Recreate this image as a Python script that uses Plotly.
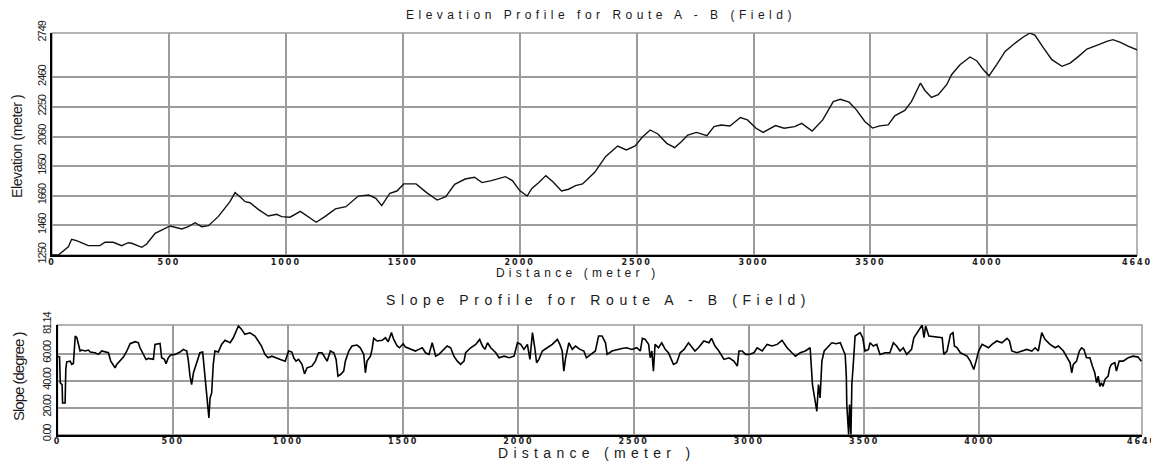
import plotly.graph_objects as go

# ---------------- data ----------------
elev_dist = [0, 27, 70, 84, 105, 155, 205, 227, 262, 298, 326, 341, 384, 405, 441, 462, 505, 555, 583, 612,
             640, 669, 711, 761, 783, 804, 826, 847, 882, 925, 961, 982, 1018, 1062, 1130, 1167, 1212, 1257,
             1310, 1355, 1385, 1410, 1445, 1475, 1504, 1557, 1602, 1647, 1684, 1722, 1767, 1807, 1839, 1879,
             1939, 1969, 2000, 2032, 2052, 2082, 2112, 2142, 2179, 2209, 2239, 2269, 2321, 2367, 2419, 2456,
             2494, 2524, 2558, 2591, 2629, 2663, 2689, 2719, 2756, 2801, 2831, 2861, 2899, 2944, 2974, 3011,
             3041, 3094, 3131, 3176, 3206, 3251, 3296, 3341, 3371, 3409, 3440, 3476, 3509, 3540, 3576, 3604,
             3647, 3676, 3697, 3714, 3733, 3761, 3790, 3826, 3847, 3883, 3926, 3954, 3983, 4007, 4040, 4076,
             4119, 4154, 4183, 4204, 4240, 4276, 4319, 4354, 4390, 4426, 4476, 4511, 4537, 4569, 4604, 4640]
elev_m = [1250, 1250, 1306, 1356, 1347, 1313, 1313, 1336, 1336, 1313, 1333, 1329, 1302, 1324, 1396, 1412, 1446,
          1426, 1441, 1468, 1441, 1448, 1509, 1610, 1671, 1644, 1610, 1603, 1558, 1513, 1525, 1509, 1505, 1545,
          1471, 1509, 1561, 1576, 1648, 1655, 1633, 1583, 1667, 1682, 1730, 1730, 1671, 1621, 1644, 1727, 1763,
          1775, 1739, 1752, 1779, 1752, 1685, 1648, 1700, 1739, 1786, 1745, 1682, 1694, 1718, 1730, 1808, 1914,
          1986, 1959, 1986, 2045, 2094, 2067, 2004, 1975, 2011, 2060, 2078, 2056, 2117, 2128, 2121, 2178, 2162,
          2106, 2078, 2124, 2106, 2117, 2139, 2087, 2162, 2286, 2301, 2282, 2230, 2152, 2107, 2122, 2129, 2190,
          2226, 2287, 2361, 2411, 2361, 2314, 2332, 2400, 2467, 2535, 2587, 2562, 2501, 2460, 2535, 2625, 2681,
          2722, 2749, 2733, 2648, 2569, 2524, 2546, 2591, 2641, 2670, 2693, 2704, 2686, 2659, 2636]

slope_dist = [0, 9, 12, 20, 22, 33, 36, 40, 55, 62, 69, 77, 84, 91, 98, 105, 120, 134, 142, 163, 178, 192, 207,
              221, 231, 243, 250, 257, 272, 286, 301, 315, 337, 351, 358, 373, 384, 394, 409, 416, 423, 445, 452,
              464, 471, 481, 491, 510, 532, 546, 561, 568, 575, 582, 590, 604, 618, 630, 640, 647, 657, 662, 669,
              676, 683, 698, 712, 727, 749, 763, 785, 799, 813, 835, 857, 871, 885, 900, 914,
              930, 945, 967, 988, 1003, 1017, 1025, 1035, 1046, 1061, 1072, 1083, 1104, 1119, 1133, 1148, 1162,
              1170, 1184, 1199, 1209, 1217, 1228, 1242, 1249, 1264, 1278, 1300, 1314, 1322, 1329, 1336, 1343,
              1358, 1365, 1372, 1387, 1409, 1423, 1435, 1449, 1459, 1474, 1484, 1500, 1510, 1532, 1553, 1568,
              1583, 1597, 1612, 1626, 1641, 1655, 1670, 1691, 1706, 1720, 1735, 1749, 1764, 1771, 1793, 1815,
              1832, 1844, 1855, 1866, 1880, 1902, 1916, 1938, 1960, 1981, 1996, 2010, 2024, 2039, 2050, 2061,
              2071, 2079, 2089, 2104, 2125, 2147, 2169, 2180, 2190, 2197, 2205, 2219, 2234, 2248, 2267, 2284,
              2295, 2313, 2334, 2348, 2363, 2378, 2385, 2406, 2428, 2449, 2470, 2492, 2514, 2529, 2538, 2550,
              2565, 2572, 2579, 2586, 2593, 2608, 2622, 2637, 2651, 2673, 2687, 2702, 2719, 2738, 2755, 2766,
              2781, 2805, 2827, 2838, 2853, 2870, 2892, 2914, 2935, 2950, 2957, 2971, 2986, 3000, 3022, 3036,
              3058, 3079, 3101, 3123, 3144, 3166, 3187, 3202, 3223, 3245, 3266, 3271, 3276, 3295, 3302, 3309,
              3317, 3327, 3346, 3360, 3379, 3397, 3411, 3418, 3423, 3425, 3433, 3437, 3443, 3447, 3454, 3461,
              3483, 3494, 3504, 3519, 3526, 3540, 3555, 3569, 3591, 3612, 3627, 3641, 3656, 3670, 3685, 3706,
              3716, 3731, 3745, 3752, 3760, 3767, 3781, 3803, 3824, 3839, 3846, 3860, 3875, 3886, 3892, 3904,
              3918, 3932, 3947, 3961, 3976, 3986, 3997, 4012, 4026, 4040, 4055, 4076, 4098, 4120, 4131, 4141,
              4163, 4184, 4206, 4228, 4242, 4256, 4271, 4285, 4307, 4329, 4343, 4365, 4380, 4394, 4401, 4408,
              4422, 4434, 4444, 4454, 4465, 4480, 4491, 4501, 4509, 4516, 4523, 4530, 4537, 4545, 4559, 4566,
              4573, 4588, 4595, 4607, 4624, 4646, 4667, 4689, 4703]
slope_deg = [58.1, 57.4, 38.3, 37.1, 23.5, 23.5, 48.2, 53.9, 54.4, 52.0, 52.7, 73.0, 71.7, 66.8, 61.9, 62.6, 61.9,
             62.6, 61.1, 60.6, 59.4, 61.9, 61.1, 60.6, 54.4, 50.7, 49.5, 52.0, 54.4, 57.4, 61.9, 67.3, 68.8, 68.0,
             64.3, 59.4, 55.7, 56.4, 55.7, 55.7, 66.8, 67.5, 56.9, 55.7, 52.5, 56.9, 58.9, 59.4, 61.1, 63.1, 61.9,
             54.4, 43.3, 37.1, 45.8, 53.2, 60.6, 61.1, 43.3, 28.4, 12.4, 27.2, 30.9, 52.0, 61.9, 61.1, 66.8, 69.8,
             68.0, 71.7, 80.4, 77.9, 74.2, 75.4, 73.0, 69.3, 65.6, 59.4, 56.9,
             58.1, 56.9, 55.7, 54.4, 61.9, 61.1, 56.9, 54.4, 55.7, 52.0, 45.0, 49.5, 50.7, 54.4, 60.6, 60.6, 56.4,
             54.4, 61.9, 60.6, 55.7, 43.3, 44.5, 47.0, 54.4, 61.9, 65.6, 66.3, 64.3, 61.9, 59.4, 45.8, 54.4,
             58.1, 63.1, 71.3, 69.3, 69.8, 71.7, 68.8, 75.5, 70.5, 65.6, 64.3, 67.3, 64.8, 63.1, 61.9, 63.1,
             64.3, 60.6, 59.4, 68.0, 58.1, 59.4, 61.9, 65.6, 64.3, 58.1, 54.4, 52.0, 54.4, 60.6, 64.3, 66.8,
             70.5, 65.6, 63.1, 68.0, 64.3, 60.6, 56.9, 58.1, 56.9, 58.1, 68.0, 66.8, 63.1, 66.8, 55.7, 75.5,
             64.3, 53.2, 55.7, 61.9, 64.3, 66.8, 70.5, 66.8, 61.9, 47.0, 56.9, 68.0, 63.1, 65.6, 63.1, 61.9,
             56.9, 59.4, 61.9, 73.0, 73.0, 68.0, 59.4, 61.9, 63.1, 63.8, 64.3, 63.1, 64.3, 61.9, 71.3, 70.5,
             66.8, 56.9, 61.9, 47.0, 66.8, 64.3, 68.0, 63.1, 60.6, 52.0, 53.2, 60.6, 63.1, 68.0, 64.3, 61.9,
             64.3, 69.3, 68.0, 71.3, 65.6, 61.9, 55.7, 56.9, 54.4, 50.7, 61.9, 61.9, 59.4, 59.4, 60.6, 64.3,
             61.9, 66.8, 65.6, 66.8, 69.8, 64.3, 60.6, 58.1, 60.6, 61.9, 64.3, 52.0, 37.1, 17.3, 37.1, 27.2,
             54.4, 61.9, 65.6, 68.0, 67.3, 68.0, 61.9, 59.4, 43.3, 22.3, 0.0, 22.3, 0.0, 37.1, 54.4, 73.0,
             75.5, 71.7, 61.9, 63.1, 68.0, 65.6, 66.8, 59.4, 60.6, 60.6, 68.0, 65.6, 61.9, 64.3, 59.4, 63.1,
             71.7, 75.5, 79.2, 81.1, 71.7, 80.4, 73.0, 72.5, 72.5, 71.7, 59.4, 61.9, 74.2, 75.5, 65.6, 64.3,
             60.6, 59.4, 58.1, 54.4, 48.2, 54.4, 61.9, 66.8, 65.6, 64.3, 66.8, 69.3, 68.0, 71.3, 69.3, 61.9,
             60.6, 61.9, 63.1, 61.9, 64.3, 61.9, 75.5, 70.5, 66.8, 64.3, 65.6, 61.9, 56.9, 53.2, 45.8, 52.0,
             54.4, 61.9, 64.3, 63.1, 56.9, 56.9, 50.7, 45.8, 38.3, 43.3, 35.8, 38.3, 35.8, 40.8, 43.3, 49.5,
             52.0, 53.2, 47.0, 54.4, 54.4, 56.9, 58.1, 57.4, 54.4]

elev_ticks = [1250, 1450, 1650, 1850, 2050, 2250, 2450, 2749]
elev_labels = ["1250", "1460", "1660", "1850", "2060", "2250", "2460", "2749"]
slope_ticks = [0, 20, 40, 60, 81.14]
slope_labels = ["0.00", "20.00", "40.00", "60.00", "81.14"]
dist_ticks = [0, 500, 1000, 1500, 2000, 2500, 3000, 3500, 4000]
dist_labels = ["0", "500", "1000", "1500", "2000", "2500", "3000", "3500", "4000"]
dist_end_label = "4640"
top_title = "Elevation Profile for Route A - B (Field)"
bot_title = "Slope Profile for Route A - B (Field)"
x_title = "Distance (meter )"
top_ytitle = "Elevation (meter )"
bot_ytitle = "Slope (degree )"

# ---------------- layout helpers ----------------
# The page body has an 8px default margin; work in window pixels and shift.
OFF = 8
WIN_W, WIN_H = 1159, 464
W, H = WIN_W - OFF, WIN_H - OFF
def px(x):
    return (x - OFF) / W
def py(y):
    return 1 - (y - OFF) / H

TOP = dict(x0=52, x1=1137, y0=33, y1=255)
BOT = dict(x0=57.5, x1=1142, y0=325, y1=434.7)
TOP_XEND = 4640
BOT_XEND = 4706

GRID = "#9c9c9c"
SANS = "Liberation Sans, Arial, sans-serif"

def spaced(t, s):
    return '<span style="letter-spacing:%spx">%s</span>' % (s, t)

fig = go.Figure()
fig.add_trace(go.Scatter(x=elev_dist, y=elev_m, mode="lines",
                         line=dict(color="#111111", width=1.4), xaxis="x", yaxis="y",
                         showlegend=False, hoverinfo="skip"))
fig.add_trace(go.Scatter(x=slope_dist, y=slope_deg, mode="lines",
                         line=dict(color="#000000", width=1.6), xaxis="x2", yaxis="y2",
                         showlegend=False, hoverinfo="skip"))

xcommon = dict(showgrid=True, gridcolor=GRID, gridwidth=1.5, zeroline=False, showline=True,
               linecolor="#000000", linewidth=2, ticks="", automargin=False, ticklabelstandoff=-2,
               tickfont=dict(family="DejaVu Sans", size=8, color="#222222", weight="bold"))
ycommon = dict(showgrid=True, gridcolor=GRID, gridwidth=1.5, zeroline=False, showline=True,
               linecolor="#000000", linewidth=2, ticks="", tickangle=-90, automargin=False,
               tickfont=dict(family=SANS, size=11, color="#222222"))

xt = [spaced(l, 2) for l in dist_labels + [dist_end_label]]
fig.update_layout(
    width=W, height=H, margin=dict(l=0, r=0, t=0, b=0, autoexpand=False),
    paper_bgcolor="white", plot_bgcolor="white", showlegend=False,
    xaxis=dict(domain=[px(TOP["x0"]), px(TOP["x1"])], range=[0, TOP_XEND], anchor="y",
               tickmode="array", tickvals=dist_ticks + [TOP_XEND], ticktext=xt, **xcommon),
    yaxis=dict(domain=[py(TOP["y1"]), py(TOP["y0"])], range=[elev_ticks[0], elev_ticks[-1]], anchor="x",
               tickmode="array", tickvals=elev_ticks,
               ticktext=[spaced(l, -1) for l in elev_labels], **ycommon),
    xaxis2=dict(domain=[px(BOT["x0"]), px(BOT["x1"])], range=[0, BOT_XEND], anchor="y2",
                tickmode="array", tickvals=dist_ticks + [BOT_XEND], ticktext=xt, **xcommon),
    yaxis2=dict(domain=[py(BOT["y1"]), py(BOT["y0"])], range=[0, slope_ticks[-1]], anchor="x2",
                tickmode="array", tickvals=slope_ticks,
                ticktext=[spaced(l, -1.2) for l in slope_labels], **ycommon),
)

# gray frame (top / right edges)
for xa, ya in (("x", "y"), ("x2", "y2")):
    fig.add_shape(type="rect", xref=xa + " domain", yref=ya + " domain", x0=0, x1=1, y0=0, y1=1,
                  line=dict(color=GRID, width=1.5), layer="below")

def ann(text, x, y, size, angle=0, spacing=None):
    t = spaced(text, spacing) if spacing is not None else text
    fig.add_annotation(text=t, x=px(x), y=py(y), xref="paper", yref="paper", showarrow=False,
                       xanchor="center", yanchor="middle", textangle=angle,
                       font=dict(family=SANS, size=size, color="#1a1a1a"))

ann(top_title, 601, 15, 12, spacing=4.5)
ann(x_title, 577, 273, 12, spacing=4.2)
ann(top_ytitle, 17, 147, 14, angle=-90, spacing=-0.4)
ann(bot_title, 598, 300, 14, spacing=5.6)
ann(x_title, 596, 453, 14, spacing=5.3)
ann(bot_ytitle, 18, 377, 15, angle=-90, spacing=-1)

fig.write_html("out.html")
